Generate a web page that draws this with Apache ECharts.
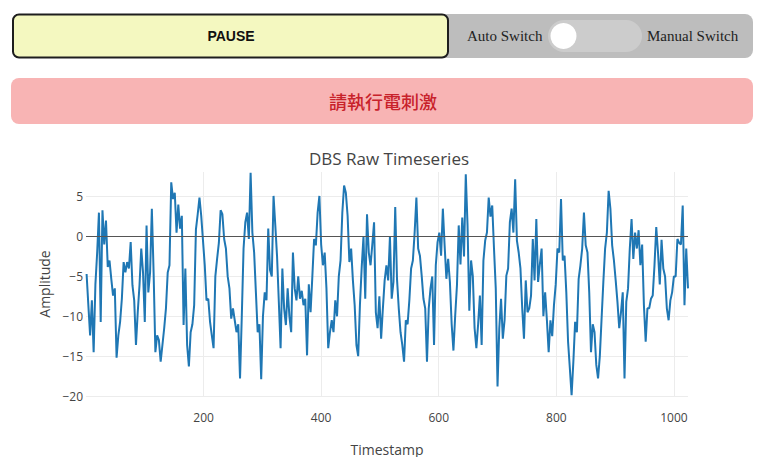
<!DOCTYPE html>
<html>
<head>
<meta charset="utf-8">
<script src="https://cdn.jsdelivr.net/npm/echarts@6/dist/echarts.min.js"></script>
<style>
  html, body { margin: 0; padding: 0; background: #ffffff; }
  #main { width: 757px; height: 457px; }
</style>
</head>
<body>
<div id="main"></div>
<script>
// DBS raw amplitude samples, one every 3 timestamps starting at timestamp 1
const tStart = 1;
const tStep = 3;
const amplitude = [
  -4.7, -8.6, -12.4, -8.0, -14.5, -6.0, -2.0, 3.0, -10.7, 3.3,        // 1-28
  -1.0, 2.0, -3.8, -3.0, -5.3, -7.4, -6.5, -15.2, -12.4, -10.7,       // 31-58
  -7.8, -3.2, -4.5, -3.2, -4.0, -0.7, -6.1, -8.0, -13.6, -9.5,        // 61-88
  -6.1, -1.5, -4.5, -10.7, 1.4, -7.0, -4.5, 3.5, -4.5, -14.5,         // 91-118
  -12.4, -13.0, -15.7, -13.6, -11.5, -9.0, -4.5, -3.6, 6.8, 4.7,      // 121-148
  5.5, 0.5, 4.0, 1.0, 2.6, -11.1, -4.0, -13.6, -16.3, -12.0,          // 151-178
  -11.0, -8.6, 0.9, 2.8, 4.9, 2.6, -0.5, -3.6, -8.0, -7.8,            // 181-208
  -10.7, -12.4, -14.0, -5.0, -2.8, -0.8, 3.3, 2.8, -0.3, -1.5,        // 211-238
  -5.0, -6.5, -10.3, -9.0, -10.5, -12.0, -11.0, -17.8, -10.0, -1.5,   // 241-268
  1.8, 3.0, -0.3, 8.0, 0.5, -2.0, -7.0, -12.0, -11.0, -17.9,          // 271-298
  -10.0, -7.0, -8.0, 1.0, -4.2, -5.0, 5.1, 1.4, -2.5, -8.2,           // 301-328
  -14.0, -4.0, -9.0, -11.1, -6.5, -10.0, -12.0, -2.0, -6.5, -8.0,     // 331-358
  -5.0, -7.8, -6.8, -8.6, -7.8, -14.9, -6.0, -9.5, -5.0, -0.3,        // 361-388
  -1.1, 3.0, 5.1, -1.0, -3.6, -2.0, -6.5, -14.0, -12.0, -10.5,        // 391-418
  -12.0, -8.0, -10.0, -5.0, -3.0, 3.0, 6.4, 5.5, 2.6, -3.2,           // 421-448
  -1.5, -5.5, -8.6, -13.6, -15.0, -8.5, -3.8, 0.0, -7.8, 2.8,         // 451-478
  -2.0, -3.6, -1.0, 1.8, -9.5, -11.5, -7.5, -12.8, -9.0, -5.5,        // 481-508
  -3.6, -5.5, 0.0, -7.8, -5.7, 3.7, -5.3, -9.0, -12.0, -13.6,         // 511-538
  -15.7, -10.5, -11.0, -8.0, -4.0, -3.0, 0.5, 4.9, -1.5, -2.4,        // 541-568
  -4.9, -7.8, -9.0, -15.7, -9.0, -6.5, -5.0, -13.6, -3.6, -0.7,       // 571-598
  0.5, -2.4, 3.5, -1.1, -5.3, -2.8, -5.7, -11.0, -14.3, -9.9,         // 601-628
  -6.1, 1.4, -3.5, 2.4, -2.5, 7.8, 1.4, -9.3, -3.0, -5.0,             // 631-658
  -11.5, -14.0, -11.0, -7.4, -13.6, -3.0, -0.5, 0.5, 4.9, 2.5,        // 661-688
  3.9, -1.5, -6.5, -18.8, -11.5, -7.8, -12.8, -10.5, -4.9, -4.0,      // 691-718
  1.8, 3.5, 0.5, 7.2, -0.5, -2.0, -4.0, -9.0, -12.8, -5.5,            // 721-748
  -9.5, -9.0, -7.4, -0.3, -5.5, 2.2, -5.7, -3.5, -1.5, -10.0,         // 751-778
  -7.0, -10.5, -14.5, -10.5, -12.5, -8.6, -6.0, -1.5, -2.0, 4.7,      // 781-808
  -3.0, -2.4, -7.0, -13.2, -16.5, -19.9, -15.7, -10.7, -12.0, -5.3,   // 811-838
  -3.6, -1.5, 3.0, -1.1, -2.0, -7.0, -14.5, -11.0, -12.0, -16.1,      // 841-868
  -17.8, -15.0, -10.3, -5.7, -1.5, 0.5, 5.75, 3.5, -1.1, -3.0,        // 871-898
  -5.5, -8.2, -11.5, -9.5, -7.0, -17.8, -8.2, -6.5, -1.5, 2.2,        // 901-928
  -2.8, 0.5, -1.5, 0.8, -3.6, -1.0, -8.6, -13.2, -9.0, -9.0,          // 931-958
  -7.8, -7.4, -3.6, 1.2, -2.0, -6.0, -0.4, -4.0, -5.0, -9.0,          // 961-988
  -10.5, -8.0, -7.0, -5.0, -5.0, -0.3, -0.8, -1.0, 3.9, -8.6,         // 991-1018
  -1.5, -6.5                                                          // 1021-1024
];
const timestamps = amplitude.map((_, i) => tStart + i * tStep);

const chartTitle = 'DBS Raw Timeseries';
const xName = 'Timestamp';
const yName = 'Amplitude';
const alertText = '請執行電刺激';

const minus = v => (v < 0 ? '\u2212' + Math.abs(v) : String(v));

const chart = echarts.init(document.getElementById('main'), null, { renderer: 'svg' });

chart.setOption({
  animation: false,
  backgroundColor: '#ffffff',
  textStyle: { fontFamily: 'Open Sans' },
  graphic: [
    // switch panel
    { type: 'rect', shape: { x: 12, y: 14, width: 741, height: 44, r: 8 },
      style: { fill: '#bdbdbd' }, z: 1 },
    // pause button
    { type: 'rect', shape: { x: 13, y: 14.5, width: 435, height: 43, r: 6 },
      style: { fill: '#f4f8c0', stroke: '#1e1e1e', lineWidth: 2 }, z: 2 },
    { type: 'text', z: 3,
      style: { text: 'PAUSE', x: 231, y: 36, textAlign: 'center', textVerticalAlign: 'middle',
               font: 'bold 14px "Liberation Sans", Arial, sans-serif', fill: '#111111' } },
    { type: 'text', z: 3,
      style: { text: 'Auto Switch', x: 467, y: 36, textAlign: 'left', textVerticalAlign: 'middle',
               font: '15px "Liberation Serif", "Times New Roman", serif', fill: '#222222' } },
    { type: 'rect', shape: { x: 548, y: 20, width: 94, height: 32, r: 16 },
      style: { fill: '#cccccc' }, z: 2 },
    { type: 'circle', shape: { cx: 563.5, cy: 36, r: 13 },
      style: { fill: '#ffffff' }, z: 3 },
    { type: 'text', z: 3,
      style: { text: 'Manual Switch', x: 647, y: 36, textAlign: 'left', textVerticalAlign: 'middle',
               font: '15px "Liberation Serif", "Times New Roman", serif', fill: '#222222' } },
    // alert banner
    { type: 'rect', shape: { x: 11, y: 78, width: 742, height: 46, r: 8 },
      style: { fill: '#f8b4b4' }, z: 1 },
    { type: 'text', z: 2,
      style: { text: alertText, x: 383, y: 101, textAlign: 'center', textVerticalAlign: 'middle',
               font: '500 18px "Noto Sans CJK TC", sans-serif', fill: '#c8222b' } },
    // plot title
    { type: 'text', z: 2,
      style: { text: chartTitle, x: 389, y: 158, textAlign: 'center', textVerticalAlign: 'middle',
               font: '17px "Open Sans", sans-serif', fill: '#444444' } }
  ],
  grid: { left: 86, right: 69, top: 172, bottom: 61, containLabel: false },
  xAxis: {
    type: 'value',
    min: 0,
    max: 1024,
    interval: 200,
    name: xName,
    nameLocation: 'middle',
    nameGap: 46,
    nameTextStyle: { color: '#444444', fontSize: 14, fontFamily: 'Open Sans' },
    axisLine: { show: false },
    axisTick: { show: false },
    axisLabel: { color: '#444444', fontSize: 12, fontFamily: 'Open Sans', margin: 15,
                 showMinLabel: false, showMaxLabel: false, formatter: v => String(v) },
    splitLine: { show: true, showMinLine: false, showMaxLine: false,
                 lineStyle: { color: '#ececec', width: 1 } }
  },
  yAxis: {
    type: 'value',
    min: -20,
    max: 8.1,
    interval: 5,
    name: yName,
    nameLocation: 'middle',
    nameGap: 32,
    nameTextStyle: { color: '#444444', fontSize: 14, fontFamily: 'Open Sans' },
    axisLine: { show: false },
    axisTick: { show: false },
    axisLabel: { color: '#444444', fontSize: 12, fontFamily: 'Open Sans', margin: 3,
                 showMaxLabel: false, formatter: minus },
    splitLine: { show: true, showMaxLine: false,
                 lineStyle: { color: '#ececec', width: 1 } }
  },
  series: [{
    type: 'line',
    data: timestamps.map((t, i) => [t, amplitude[i]]),
    showSymbol: false,
    symbol: 'none',
    lineStyle: { color: '#1f77b4', width: 2 },
    emphasis: { disabled: true },
    markLine: {
      silent: true,
      symbol: 'none',
      label: { show: false },
      lineStyle: { color: '#555555', width: 1, type: 'solid' },
      data: [{ yAxis: 0 }]
    },
    z: 3
  }]
});
</script>
</body>
</html>
